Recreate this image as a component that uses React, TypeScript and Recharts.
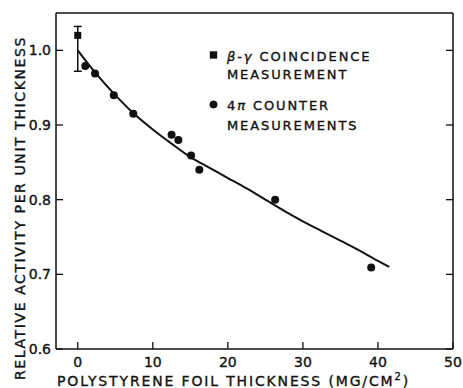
import { ComposedChart, Line, Scatter, XAxis, YAxis, ErrorBar, Customized } from "recharts";

const xTicks = [0, 10, 20, 30, 40, 50];
const yTicks = [0.6, 0.7, 0.8, 0.9, 1.0];

// beta-gamma coincidence point, error given as [below, above]
const coincX = [0];
const coincY = [1.02];
const coincErr = [[0.048, 0.012]];

// 4 pi counter measurements
const counterX = [1.0, 2.3, 4.8, 7.4, 12.5, 13.4, 15.1, 16.2, 26.3, 39.1];
const counterY = [0.979, 0.969, 0.94, 0.915, 0.887, 0.88, 0.859, 0.84, 0.8, 0.709];

// smooth curve drawn through the data
const fitX = [0, 2.5, 5, 7.5, 10, 12.5, 15, 17.5, 20, 22.5, 25, 27.5, 30, 32.5, 35, 37.5, 40, 41.5];
const fitY = [1.0, 0.968, 0.94, 0.915, 0.894, 0.875, 0.857, 0.843, 0.829, 0.815, 0.8, 0.785, 0.771, 0.758, 0.745, 0.732, 0.718, 0.71];

const coincData = coincX.map((x, i) => ({ x, y: coincY[i], err: coincErr[i] }));
const counterData = counterX.map((x, i) => ({ x, y: counterY[i] }));
const fitData = fitX.map((x, i) => ({ x, y: fitY[i] }));

const FONT = "'DejaVu Sans', sans-serif";
const INK = "#111";
const TICK = 7;

const BottomTick = (p: any) => (
  <g>
    <line x1={p.x} x2={p.x} y1={p.y} y2={p.y - TICK} stroke={INK} strokeWidth={1.3} />
    <text x={p.x} y={p.y + 18} textAnchor="middle" fontSize={14} fontFamily={FONT} fill={INK} stroke={INK} strokeWidth={0.35}>
      {p.payload.value}
    </text>
  </g>
);

const TopTick = (p: any) => (
  <line x1={p.x} x2={p.x} y1={p.y} y2={p.y + TICK} stroke={INK} strokeWidth={1.3} />
);

const LeftTick = (p: any) => (
  <g>
    <line x1={p.x} x2={p.x + TICK} y1={p.y} y2={p.y} stroke={INK} strokeWidth={1.3} />
    <text x={p.x - 5} y={p.y + 5} textAnchor="end" fontSize={14} fontFamily={FONT} fill={INK} stroke={INK} strokeWidth={0.35}>
      {Number(p.payload.value).toFixed(1)}
    </text>
  </g>
);

const RightTick = (p: any) => (
  <line x1={p.x} x2={p.x - TICK} y1={p.y} y2={p.y} stroke={INK} strokeWidth={1.3} />
);

const Square = (p: any) => <rect x={p.cx - 3.5} y={p.cy - 3.5} width={7} height={7} fill={INK} />;
const Dot = (p: any) => <circle cx={p.cx} cy={p.cy} r={4} fill={INK} />;

const Annotations = () => (
  <g fontFamily={FONT} fill={INK} stroke={INK} strokeWidth={0.35} fontSize={13} letterSpacing={1.9}>
    <rect x={210} y={51.5} width={7} height={7} fill={INK} />
    <text x={227} y={60.5}>
      <tspan fontStyle="italic">β</tspan>-<tspan fontStyle="italic">γ</tspan> COINCIDENCE
    </text>
    <text x={227} y={79}>MEASUREMENT</text>
    <circle cx={213.5} cy={104.5} r={3.8} fill={INK} />
    <text x={227} y={110}>
      4<tspan fontStyle="italic">π</tspan> COUNTER
    </text>
    <text x={227} y={130}>MEASUREMENTS</text>
    <text x={57} y={386} fontSize={14} letterSpacing={1.85}>
      POLYSTYRENE FOIL THICKNESS (MG/CM<tspan fontSize={10} dy={-6}>2</tspan><tspan dy={6}>)</tspan>
    </text>
    <text
      x={25}
      y={208}
      fontSize={14}
      letterSpacing={1.6}
      textAnchor="middle"
      transform="rotate(-90 25 208)"
    >
      RELATIVE ACTIVITY PER UNIT THICKNESS
    </text>
  </g>
);

export default function App() {
  return (
    <div style={{ position: "absolute", left: 0, top: 0, width: 463, height: 388, background: "#fff" }}>
      <ComposedChart width={463} height={388} margin={{ top: 12, right: 9, bottom: 0, left: 0 }}>
        <XAxis
          dataKey="x"
          type="number"
          domain={[-2.9, 50]}
          ticks={xTicks}
          allowDataOverflow
          height={39}
          tickSize={0}
          tickMargin={0}
          tickLine={false}
          tick={<BottomTick />}
          axisLine={{ stroke: INK, strokeWidth: 1.5 }}
        />
        <XAxis
          xAxisId="top"
          orientation="top"
          type="number"
          domain={[-2.9, 50]}
          ticks={xTicks}
          allowDataOverflow
          height={1}
          tickSize={0}
          tickMargin={0}
          tickLine={false}
          tick={<TopTick />}
          axisLine={{ stroke: INK, strokeWidth: 1.5 }}
        />
        <YAxis
          type="number"
          domain={[0.6, 1.05]}
          ticks={yTicks}
          allowDataOverflow
          width={56}
          tickSize={0}
          tickMargin={0}
          tickLine={false}
          tick={<LeftTick />}
          axisLine={{ stroke: INK, strokeWidth: 1.5 }}
        />
        <YAxis
          yAxisId="right"
          orientation="right"
          type="number"
          domain={[0.6, 1.05]}
          ticks={yTicks}
          allowDataOverflow
          width={1}
          tickSize={0}
          tickMargin={0}
          tickLine={false}
          tick={<RightTick />}
          axisLine={{ stroke: INK, strokeWidth: 1.5 }}
        />
        <Line
          data={fitData}
          dataKey="y"
          type="monotone"
          stroke={INK}
          strokeWidth={2}
          dot={false}
          isAnimationActive={false}
        />
        <Scatter data={counterData} dataKey="y" shape={<Dot />} isAnimationActive={false} />
        <Scatter data={coincData} dataKey="y" shape={<Square />} isAnimationActive={false}>
          <ErrorBar dataKey="err" direction="y" width={4} stroke={INK} strokeWidth={1.5} />
        </Scatter>
        <Customized component={<Annotations />} />
      </ComposedChart>
    </div>
  );
}
